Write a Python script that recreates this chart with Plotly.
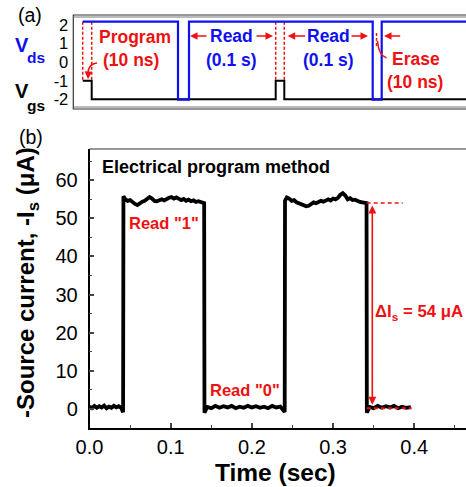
import plotly.graph_objects as go

W, H = 466, 487
FONT = "Liberation Sans, Arial, sans-serif"
RED = "#ee1111"
BLUE = "#1010ee"

# ---------------- (a) schematic pulse waveforms (schematic time units) ----------------
vds_t = [82.7, 178, 178, 189, 189, 372.7, 372.7, 381.7, 381.7, 466]
vds_v = [2.18, 2.18, -2.02, -2.02, 2.18, 2.18, -2.02, -2.02, 2.18, 2.18]
vgs_t = [82.7, 91.7, 91.7, 275.7, 275.7, 284.3, 284.3, 466]
vgs_v = [-1, -1, -2, -2, -1, -1, -2, -2]
pulse_edges = [82.7, 91.7, 275.7, 284.3]
top_ticks = [-2, -1, 0, 1, 2]
top_ticktext = ["-2", "-1", "0", "1", "2"]

# ---------------- (b) source current vs time ----------------
low1_t = [0.000, 0.003, 0.006, 0.009, 0.012, 0.015, 0.018, 0.021, 0.024, 0.027, 0.030, 0.033, 0.036, 0.039, 0.0414]
low1_i = [0.6, 0.2, 0.8, 0.3, 0.7, 0.4, 0.9, 0.2, 0.6, 0.3, 0.8, 0.4, 0.7, 0.3, -0.9]
high1_t = [0.0418, 0.044, 0.047, 0.050, 0.053, 0.056, 0.059, 0.062, 0.065, 0.068, 0.071, 0.074, 0.077,
           0.080, 0.083, 0.086, 0.089, 0.092, 0.095, 0.098, 0.101, 0.104, 0.107, 0.110, 0.113, 0.116,
           0.119, 0.122, 0.125, 0.128, 0.131, 0.134, 0.137, 0.1412]
high1_i = [55.8, 55.0, 54.6, 54.8, 54.2, 53.8, 53.5, 54.0, 54.4, 54.6, 55.0, 55.6, 55.2, 54.6, 54.5,
           54.8, 55.0, 54.7, 55.2, 55.4, 55.6, 55.2, 55.5, 55.0, 54.8, 55.1, 54.6, 54.9, 54.5, 54.7,
           54.3, 54.5, 54.2, 54.0]
low2_t = [0.1416, 0.145, 0.150, 0.155, 0.160, 0.165, 0.170, 0.175, 0.180, 0.185, 0.190, 0.195, 0.200,
          0.205, 0.210, 0.215, 0.220, 0.225, 0.230, 0.235, 0.2404]
low2_i = [-1.0, 0.5, 0.2, 0.8, 0.3, 0.7, 0.4, 0.8, 0.2, 0.6, 0.3, 0.8, 0.4, 0.7, 0.3, 0.6, 0.2, 0.8, 0.4, 0.6, -0.8]
high2_t = [0.2408, 0.243, 0.246, 0.249, 0.252, 0.255, 0.258, 0.261, 0.264, 0.267, 0.270, 0.273, 0.276,
           0.279, 0.282, 0.285, 0.288, 0.291, 0.294, 0.297, 0.300, 0.303, 0.306, 0.309, 0.312, 0.315,
           0.318, 0.321, 0.324, 0.327, 0.330, 0.333, 0.336, 0.339, 0.3412]
high2_i = [54.6, 55.5, 55.2, 54.6, 54.8, 54.2, 54.0, 53.6, 53.4, 53.2, 53.3, 53.8, 54.2, 54.0, 54.3,
           54.6, 54.4, 54.8, 55.0, 54.7, 55.2, 55.0, 55.4, 56.2, 56.6, 56.0, 55.0, 55.3, 54.8, 54.9,
           54.5, 54.3, 54.2, 54.1, 54.0]
low3_t = [0.3416, 0.345, 0.350, 0.355, 0.360, 0.365, 0.370, 0.375, 0.380, 0.385, 0.390, 0.3958]
low3_i = [-1.0, 0.5, 0.2, 0.8, 0.3, 0.7, 0.4, 0.8, 0.2, 0.6, 0.3, 0.5]

x_ticks = [0.0, 0.1, 0.2, 0.3, 0.4]
x_ticktext = ["0.0", "0.1", "0.2", "0.3", "0.4"]
x_minor = [0.05, 0.15, 0.25, 0.35, 0.45]
y_ticks = [0, 10, 20, 30, 40, 50, 60]
y_minor = [5, 15, 25, 35, 45, 55, 65]
delta_i = 54
low_level = 0.2

t_all = low1_t + high1_t + low2_t + high2_t + low3_t
i_all = low1_i + high1_i + low2_i + high2_i + low3_i


def px(x):
    return x / W


def py(y):
    return 1 - y / H


def vtop(ypix):
    # pixel row -> top-panel value (layout helper)
    return 2 - (ypix - 25) / 18.575


fig = go.Figure()

# (a) traces
dash_x, dash_y = [], []
for e in pulse_edges:
    dash_x += [e, e, None]
    dash_y += [vds_v[0], vgs_v[0], None]
fig.add_trace(go.Scatter(x=dash_x, y=dash_y, mode="lines",
                         line=dict(color=RED, width=1.5, dash="3px,2px"), xaxis="x", yaxis="y"))
fig.add_trace(go.Scatter(x=vgs_t, y=vgs_v, mode="lines",
                         line=dict(color="black", width=2), xaxis="x", yaxis="y"))
fig.add_trace(go.Scatter(x=vds_t, y=vds_v, mode="lines",
                         line=dict(color=BLUE, width=2.2), xaxis="x", yaxis="y"))

# (b) trace
fig.add_trace(go.Scatter(x=t_all, y=i_all, mode="lines",
                         line=dict(color="black", width=3.8), xaxis="x2", yaxis="y2"))

ann = []


def txt(x, y, s, size, color="black", xref="paper", yref="paper", xanchor="center", **kw):
    ann.append(dict(x=x, y=y, text=s, showarrow=False, xref=xref, yref=yref,
                    xanchor=xanchor, yanchor="middle",
                    font=dict(family=FONT, size=size, color=color), **kw))


def arrow(x_tip, x_tail, y, xref="x", yref="y"):
    ann.append(dict(x=x_tip, y=y, ax=x_tail, ay=y, xref=xref, yref=yref, axref=xref, ayref=yref,
                    text="", showarrow=True, arrowhead=2, arrowsize=1, arrowwidth=1.5,
                    arrowcolor=RED))


# panel labels
txt(px(30), py(15), "(a)", 19.5)
txt(px(30.5), py(137), "(b)", 19.5)
txt(px(21.5), py(45), "<b>V</b>", 20, BLUE)
txt(px(36), py(57), "<b>ds</b>", 15.5, BLUE)
txt(px(21.5), py(91), "<b>V</b>", 20)
txt(px(36), py(105), "<b>gs</b>", 15.5)

# top panel texts
txt(135, vtop(36.7), "<b>Program</b>", 17.5, RED, "x", "y")
txt(131, vtop(60), "<b>(10 ns)</b>", 17.5, RED, "x", "y")
txt(231, vtop(36), "<b>Read</b>", 17.5, BLUE, "x", "y")
txt(231, vtop(60), "<b>(0.1 s)</b>", 17.5, BLUE, "x", "y")
txt(328, vtop(36), "<b>Read</b>", 17.5, BLUE, "x", "y")
txt(328, vtop(60), "<b>(0.1 s)</b>", 17.5, BLUE, "x", "y")
txt(416, vtop(59), "<b>Erase</b>", 17.5, RED, "x", "y")
txt(415, vtop(81.7), "<b>(10 ns)</b>", 17.5, RED, "x", "y")

ya = vtop(36)
arrow(190, 208, ya)
arrow(273, 255, ya)
arrow(287.7, 306.7, ya)
arrow(368, 350, ya)
arrow(384, 401.7, ya)
# program curved arrow head
ann.append(dict(x=88, y=vtop(79), ax=88.3, ay=vtop(72), xref="x", yref="y", axref="x", ayref="y",
                text="", showarrow=True, arrowhead=2, arrowsize=1, arrowwidth=1.5, arrowcolor=RED))

# bottom panel texts
txt(px(100), py(166.7), "<b>Electrical program method</b>", 18, xanchor="left")
txt(0.0917, 48.9, "<b>Read \"1\"</b>", 16.5, RED, "x2", "y2")
txt(0.191, 5.0, "<b>Read \"0\"</b>", 16.5, RED, "x2", "y2")
txt(0.3495, 25.2, "<b>ΔI<sub>s</sub> = 54 μA</b>", 16.8, RED, "x2", "y2", xanchor="left")
txt(px(27.5), py(282.5), "<b>-Source current, -I<sub>s</sub> (μA)</b>", 24, textangle=-90)
txt(px(275.5), py(472), "<b>Time (sec)</b>", 24.5)

# delta arrow
ann.append(dict(x=0.3483, y=delta_i - 0.6, ax=0.3483, ay=low_level + 0.5,
                xref="x2", yref="y2", axref="x2", ayref="y2", text="", showarrow=True,
                arrowhead=2, startarrowhead=2, arrowside="end+start", arrowsize=1,
                arrowwidth=1.6, arrowcolor=RED))

shapes = [
    # top panel frame (double line)
    dict(type="rect", xref="paper", yref="paper", x0=px(73.3), x1=1.02, y0=py(109), y1=py(15),
         line=dict(color="#333", width=1.2)),
    dict(type="line", xref="paper", yref="paper", x0=px(73.3), x1=1.02, y0=py(17), y1=py(17),
         line=dict(color="#777", width=1)),
    dict(type="line", xref="paper", yref="paper", x0=px(73.3), x1=1.02, y0=py(107), y1=py(107),
         line=dict(color="#777", width=1)),
    # bottom panel top border
    dict(type="line", xref="paper", yref="paper", x0=px(89.5), x1=1.02, y0=py(149), y1=py(149),
         line=dict(color="#333", width=1.2)),
    # program curved arrow body
    dict(type="path", xref="x", yref="y",
         path=f"M 97,{vtop(63)} Q 87,{vtop(64)} 88,{vtop(77)}",
         line=dict(color=RED, width=1.5)),
    # erase markers
    dict(type="line", xref="x", yref="y", x0=376.5, x1=376.5, y0=vtop(33), y1=vtop(46),
         line=dict(color=RED, width=1.5, dash="3px,2px")),
    dict(type="path", xref="x", yref="y",
         path=f"M 377.5,{vtop(41)} Q 378.5,{vtop(55)} 386.5,{vtop(58)}",
         line=dict(color=RED, width=1.5)),
    # delta reference dashed lines
    dict(type="line", xref="x2", yref="y2", x0=0.3414, x1=0.3857, y0=delta_i, y1=delta_i,
         line=dict(color=RED, width=1.5, dash="4px,3px")),
    dict(type="line", xref="x2", yref="y2", x0=0.3415, x1=0.3968, y0=low_level, y1=low_level,
         line=dict(color=RED, width=2, dash="4px,3px")),
]

fig.update_layout(
    width=W, height=H, autosize=False,
    margin=dict(l=0, r=0, t=0, b=0, pad=0),
    paper_bgcolor="white", plot_bgcolor="white",
    showlegend=False,
    font=dict(family=FONT, color="black"),
    xaxis=dict(domain=[px(73.3), 1], range=[73.3, 466], visible=False, anchor="y",
               automargin=False),
    yaxis=dict(domain=[py(109), py(15)], range=[vtop(109), vtop(15)], anchor="x",
               tickvals=top_ticks, ticktext=top_ticktext, ticks="", showgrid=False,
               zeroline=False, showline=False, tickfont=dict(size=16.5, family=FONT),
               ticklabelstandoff=4, automargin=False),
    xaxis2=dict(domain=[px(89.5), 1], range=[0, 0.4637], anchor="y2",
                tickvals=x_ticks, ticktext=x_ticktext, ticks="inside", ticklen=5, tickwidth=1.5,
                showline=True, linewidth=1.5, linecolor="black", showgrid=False, zeroline=False,
                minor=dict(tickvals=x_minor, ticks="inside", ticklen=3, tickwidth=1.2),
                tickfont=dict(size=20, family=FONT), ticklabelstandoff=0, automargin=False),
    yaxis2=dict(domain=[py(428), py(149)], range=[-5, 68.2], anchor="x2",
                tickvals=y_ticks, ticks="inside", ticklen=5, tickwidth=1.5,
                showline=True, linewidth=1.5, linecolor="black", showgrid=False, zeroline=False,
                minor=dict(tickvals=y_minor, ticks="inside", ticklen=3, tickwidth=1.2),
                tickfont=dict(size=20, family=FONT), ticklabelstandoff=6, automargin=False),
    annotations=ann,
    shapes=shapes,
)

fig.write_html("out.html")
